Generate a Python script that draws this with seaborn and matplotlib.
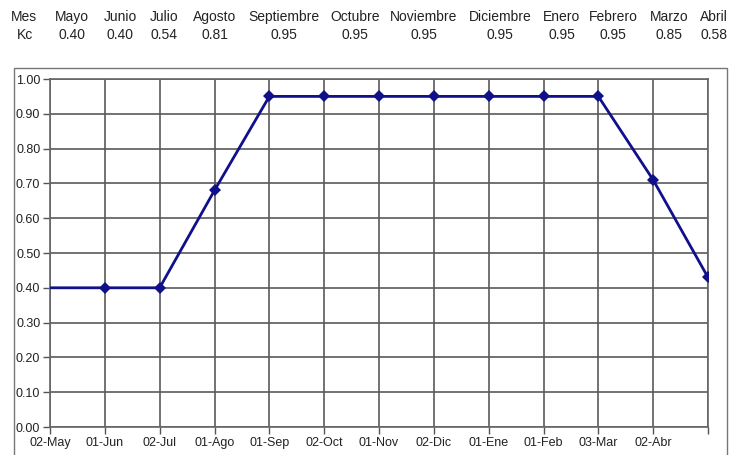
import numpy as np
import pandas as pd
import matplotlib.pyplot as plt
import matplotlib.patches as patches
import seaborn as sns

# header table
meses = ['Mayo', 'Junio', 'Julio', 'Agosto', 'Septiembre', 'Octubre', 'Noviembre',
         'Diciembre', 'Enero', 'Febrero', 'Marzo', 'Abril']
kc_mes = ['0.40', '0.40', '0.54', '0.81', '0.95', '0.95', '0.95',
          '0.95', '0.95', '0.95', '0.85', '0.58']

# curve
fechas = ['02-May', '01-Jun', '02-Jul', '01-Ago', '01-Sep', '02-Oct', '01-Nov',
          '02-Dic', '01-Ene', '01-Feb', '03-Mar', '02-Abr', '']
kc_curva = [0.40, 0.40, 0.40, 0.68, 0.95, 0.95, 0.95, 0.95, 0.95, 0.95, 0.95, 0.71, 0.43]

df = pd.DataFrame({'pos': np.arange(len(kc_curva)), 'kc': kc_curva})

sns.set_style('white')
plt.rcParams['font.family'] = ['Liberation Sans', 'DejaVu Sans']

W, H = 732, 455
fig = plt.figure(figsize=(W / 100, H / 100), dpi=100)
ax = fig.add_axes([50 / W, 1 - 427 / H, (708 - 50) / W, (427 - 79) / H])

sns.lineplot(data=df, x='pos', y='kc', ax=ax, color='#10108a', lw=2.0,
             marker='D', markersize=6, markevery=list(range(1, len(kc_curva))),
             markeredgewidth=0, zorder=5)

ax.set_xlim(0, len(kc_curva) - 1)
ax.set_ylim(0, 1.0)
ax.set_xticks(df['pos'])
ax.set_xticklabels(fechas)
ax.set_yticks(np.arange(0, 1.01, 0.1))
ax.set_yticklabels([f'{v:.2f}' for v in np.arange(0, 1.01, 0.1)])
ax.grid(True, color='#5a5a5a', lw=1.2)
ax.set_axisbelow(True)
ax.tick_params(axis='both', labelsize=9, colors='#555555', labelcolor='#222222',
               length=5, width=1.0, pad=2, direction='out')
ax.tick_params(axis='x', bottom=True)
ax.tick_params(axis='y', left=True)
for s in ax.spines.values():
    s.set_color('#666666')
    s.set_linewidth(1.2)
ax.set_xlabel('')
ax.set_ylabel('')

# outer frame
fig.add_artist(patches.Rectangle((14 / W, -0.02), (727 - 14) / W, 1 - 68 / H + 0.02,
                                 transform=fig.transFigure, fill=False,
                                 edgecolor='#777777', lw=1.0))

# header table text
col_x = [72, 120, 164, 215, 284, 355, 424, 500, 562, 613, 669, 714]
fs = 10
fig.text(24 / W, 1 - 17 / H, 'Mes', ha='center', va='center', fontsize=fs, color='#222222')
fig.text(25 / W, 1 - 35 / H, 'Kc', ha='center', va='center', fontsize=fs, color='#222222')
for x, m, k in zip(col_x, meses, kc_mes):
    fig.text(x / W, 1 - 17 / H, m, ha='center', va='center', fontsize=fs, color='#222222')
    fig.text(x / W, 1 - 35 / H, k, ha='center', va='center', fontsize=fs, color='#222222')

fig.savefig('out.png', dpi=100)
